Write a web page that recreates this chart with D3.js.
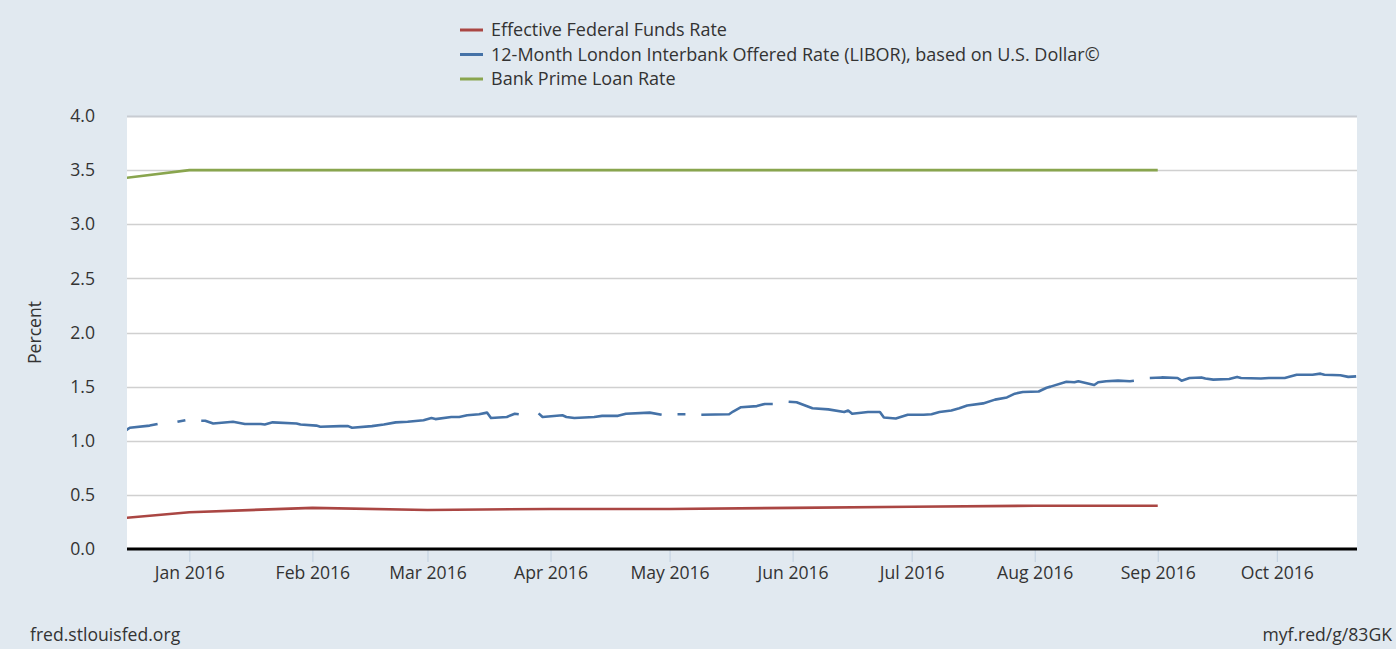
<!DOCTYPE html>
<html>
<head>
<meta charset="utf-8">
<script src="https://cdn.jsdelivr.net/npm/d3@7"></script>
<style>
  body { margin: 0; background: #e1e9f0; }
  text { font-family: "Open Sans", sans-serif; fill: #333; }
</style>
</head>
<body>
<div id="chart-area"></div>
<script>
// monthly series (plotted on the first of each month)
let monthDates = ["2015-12-01", "2016-01-01", "2016-02-01", "2016-03-01", "2016-04-01",
                  "2016-05-01", "2016-06-01", "2016-07-01", "2016-08-01", "2016-09-01"];
let fedFunds = [0.24, 0.34, 0.38, 0.36, 0.37, 0.37, 0.38, 0.39, 0.40, 0.40];
let prime = [3.36, 3.50, 3.50, 3.50, 3.50, 3.50, 3.50, 3.50, 3.50, 3.50];

// daily 12-month LIBOR, null = holiday (line breaks)
let liborDates = [
  "2015-12-16", "2015-12-17", "2015-12-22", "2015-12-24", "2015-12-25", "2015-12-28", "2015-12-29", "2015-12-31",
  "2016-01-01", "2016-01-04", "2016-01-05", "2016-01-07", "2016-01-12", "2016-01-15", "2016-01-19", "2016-01-20",
  "2016-01-22", "2016-01-28", "2016-01-29", "2016-02-02", "2016-02-03", "2016-02-08", "2016-02-10", "2016-02-11",
  "2016-02-16", "2016-02-19", "2016-02-22", "2016-02-25", "2016-02-29", "2016-03-02", "2016-03-03", "2016-03-07",
  "2016-03-09", "2016-03-11", "2016-03-14", "2016-03-16", "2016-03-17", "2016-03-21", "2016-03-23", "2016-03-24",
  "2016-03-25", "2016-03-28", "2016-03-29", "2016-03-30", "2016-04-04", "2016-04-05", "2016-04-07", "2016-04-12",
  "2016-04-14", "2016-04-18", "2016-04-20", "2016-04-26", "2016-04-29", "2016-05-02", "2016-05-03", "2016-05-05",
  "2016-05-06", "2016-05-09", "2016-05-16", "2016-05-17", "2016-05-19", "2016-05-23", "2016-05-25", "2016-05-27",
  "2016-05-30", "2016-05-31", "2016-06-02", "2016-06-06", "2016-06-10", "2016-06-14", "2016-06-15", "2016-06-16",
  "2016-06-20", "2016-06-23", "2016-06-24", "2016-06-27", "2016-06-30", "2016-07-04", "2016-07-06", "2016-07-08",
  "2016-07-11", "2016-07-13", "2016-07-15", "2016-07-19", "2016-07-22", "2016-07-25", "2016-07-27", "2016-07-29",
  "2016-08-02", "2016-08-04", "2016-08-05", "2016-08-09", "2016-08-11", "2016-08-12", "2016-08-16", "2016-08-17",
  "2016-08-19", "2016-08-22", "2016-08-25", "2016-08-26", "2016-08-29", "2016-08-30", "2016-09-02", "2016-09-06",
  "2016-09-07", "2016-09-09", "2016-09-12", "2016-09-13", "2016-09-15", "2016-09-19", "2016-09-21", "2016-09-22",
  "2016-09-27", "2016-09-29", "2016-10-03", "2016-10-06", "2016-10-10", "2016-10-12", "2016-10-13", "2016-10-17",
  "2016-10-19", "2016-10-21"
];
let liborValues = [
  1.095, 1.12, 1.14, 1.155, null, null, 1.175, 1.19,
  null, 1.185, 1.185, 1.16, 1.175, 1.155, 1.155, 1.15,
  1.17, 1.16, 1.15, 1.14, 1.13, 1.135, 1.135, 1.12,
  1.135, 1.15, 1.17, 1.175, 1.19, 1.21, 1.20, 1.22,
  1.22, 1.235, 1.245, 1.26, 1.21, 1.22, 1.25, 1.245,
  null, null, 1.253, 1.22, 1.235, 1.22, 1.21, 1.22,
  1.23, 1.23, 1.25, 1.26, 1.24, null, 1.245, 1.245,
  null, 1.24, 1.245, 1.27, 1.31, 1.32, 1.34, 1.34,
  null, 1.36, 1.355, 1.30, 1.29, 1.265, 1.28, 1.25,
  1.265, 1.265, 1.215, 1.205, 1.24, 1.24, 1.245, 1.265,
  1.28, 1.30, 1.325, 1.345, 1.38, 1.40, 1.435, 1.45,
  1.455, 1.49, 1.50, 1.545, 1.54, 1.55, 1.515, 1.54,
  1.55, 1.555, 1.55, 1.555, null, 1.58, 1.585, 1.58,
  1.555, 1.58, 1.585, 1.575, 1.565, 1.57, 1.59, 1.58,
  1.575, 1.58, 1.58, 1.61, 1.61, 1.62, 1.61, 1.605,
  1.59, 1.595
];

let seriesNames = ["Effective Federal Funds Rate",
                   "12-Month London Interbank Offered Rate (LIBOR), based on U.S. Dollar\u00A9",
                   "Bank Prime Loan Rate"];
let seriesColors = ["#aa4643", "#4572a7", "#89a54e"];
let yTicks = [0, 0.5, 1.0, 1.5, 2.0, 2.5, 3.0, 3.5, 4.0];

let W = 1396, H = 649;
let margin = { left: 127, right: 39, top: 116, bottom: 100 };
let width = W - margin.left - margin.right;
let height = H - margin.top - margin.bottom;

let parse = d3.timeParse("%Y-%m-%d");

let svg = d3.select("#chart-area")
    .append("svg")
    .attr("width", W)
    .attr("height", H);

let g = svg.append("g")
    .attr("transform", "translate(" + margin.left + "," + margin.top + ")");

let xScale = d3.scaleTime()
    .domain([new Date(2015, 11, 16, 7), new Date(2016, 9, 21, 5)])
    .range([0, width]);

let yScale = d3.scaleLinear()
    .domain([0, 4])
    .range([height, 0]);

// plot background
g.append("rect")
    .attr("width", width)
    .attr("height", height)
    .attr("fill", "#fff");

// gridlines
g.selectAll(".grid")
    .data(yTicks.filter(function(d){ return d > 0; }))
    .enter()
    .append("line")
    .attr("class", "grid")
    .attr("x1", 0)
    .attr("x2", width)
    .attr("y1", function(d){ return Math.round(yScale(d)) + 0.5; })
    .attr("y2", function(d){ return Math.round(yScale(d)) + 0.5; })
    .attr("stroke", function(d){ return d == 4 ? "#c8ccd2" : "#d0d0d0"; })
    .attr("stroke-width", function(d){ return d == 4 ? 2 : 1.5; });

// y labels
let yAxis = d3.axisLeft(yScale)
    .tickValues(yTicks)
    .tickFormat(d3.format(".1f"))
    .tickSize(0)
    .tickPadding(32);
let yG = g.append("g").attr("class", "y-axis").call(yAxis);
yG.select(".domain").remove();
yG.selectAll("text")
    .attr("font-size", "17.6px")
    .attr("fill", "#333")
    .style("font-family", "'Open Sans', sans-serif");

// x axis
let xAxis = d3.axisBottom(xScale)
    .ticks(d3.timeMonth.every(1))
    .tickFormat(d3.timeFormat("%b %Y"))
    .tickSize(13)
    .tickPadding(5);
let xG = g.append("g")
    .attr("class", "x-axis")
    .attr("transform", "translate(0," + height + ")")
    .call(xAxis);
xG.select(".domain").remove();
xG.selectAll(".tick line").attr("stroke", "#c0d0e0").attr("y1", 1);
xG.selectAll("text")
    .attr("font-size", "17.6px")
    .attr("fill", "#333")
    .style("font-family", "'Open Sans', sans-serif");

// clip
svg.append("defs").append("clipPath")
    .attr("id", "plot-clip")
    .append("rect")
    .attr("width", width)
    .attr("height", height);

let lines = g.append("g").attr("clip-path", "url(#plot-clip)");

let monthly = monthDates.map(function(d, i){
    return { date: parse(d), ff: fedFunds[i], prime: prime[i] };
});
let libor = liborDates.map(function(d, i){
    return { date: parse(d), value: liborValues[i] };
});

let ffLine = d3.line()
    .x(function(d){ return xScale(d.date); })
    .y(function(d){ return yScale(d.ff); });
let primeLine = d3.line()
    .x(function(d){ return xScale(d.date); })
    .y(function(d){ return yScale(d.prime); });
let liborLine = d3.line()
    .defined(function(d){ return d.value !== null; })
    .x(function(d){ return xScale(d.date); })
    .y(function(d){ return yScale(d.value); });

lines.append("path")
    .datum(monthly)
    .attr("d", ffLine)
    .attr("fill", "none")
    .attr("stroke", seriesColors[0])
    .attr("stroke-width", 2.6);

lines.append("path")
    .datum(libor)
    .attr("d", liborLine)
    .attr("fill", "none")
    .attr("stroke", seriesColors[1])
    .attr("stroke-width", 2.6)
    .attr("stroke-linejoin", "round");

lines.append("path")
    .datum(monthly)
    .attr("d", primeLine)
    .attr("fill", "none")
    .attr("stroke", seriesColors[2])
    .attr("stroke-width", 2.6);

// x baseline
g.append("line")
    .attr("x1", 0)
    .attr("x2", width)
    .attr("y1", height)
    .attr("y2", height)
    .attr("stroke", "#000")
    .attr("stroke-width", 3);

// Y LABEL
g.append("text")
    .attr("transform", "rotate(-90)")
    .attr("x", -(height / 2))
    .attr("y", -86)
    .attr("font-size", "17.6px")
    .attr("text-anchor", "middle")
    .text("Percent");

// legend
let legend = svg.append("g")
    .attr("transform", "translate(460,30)");
let rows = legend.selectAll(".legend-row")
    .data(seriesNames)
    .enter()
    .append("g")
    .attr("class", "legend-row")
    .attr("transform", function(d, i){ return "translate(0," + (i * 24.5) + ")"; });
rows.append("line")
    .attr("x1", 0)
    .attr("x2", 23)
    .attr("stroke", function(d, i){ return seriesColors[i]; })
    .attr("stroke-width", 3);
rows.append("text")
    .attr("x", 31)
    .attr("dy", "0.35em")
    .attr("font-size", "18px")
    .text(function(d){ return d; });

// footer
svg.append("text")
    .attr("x", 30)
    .attr("y", 641)
    .attr("font-size", "17.6px")
    .text("fred.stlouisfed.org");
svg.append("text")
    .attr("x", 1392)
    .attr("y", 641)
    .attr("font-size", "17.6px")
    .attr("text-anchor", "end")
    .text("myf.red/g/83GK");
</script>
</body>
</html>
